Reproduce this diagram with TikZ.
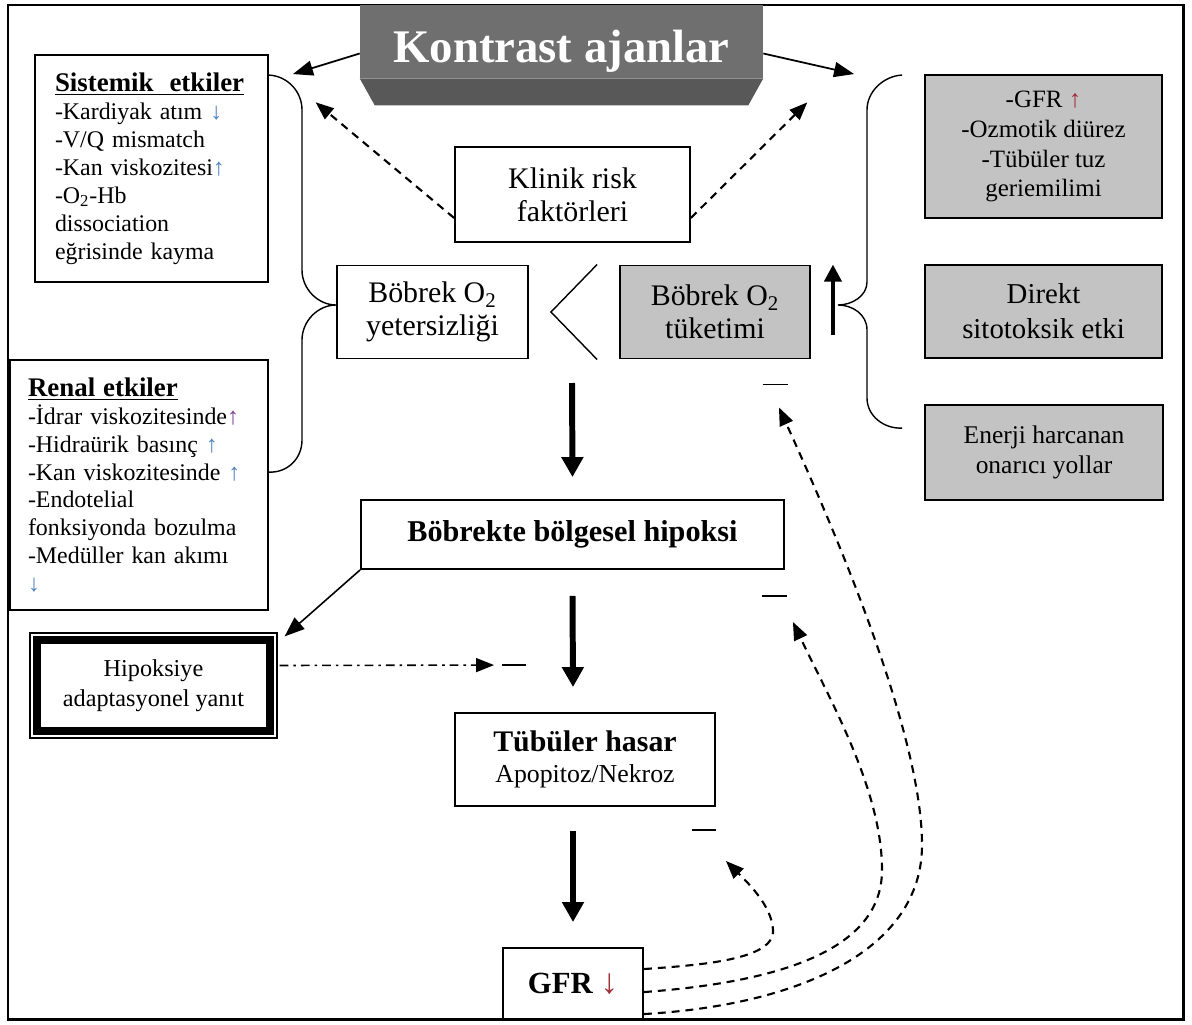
\documentclass[tikz,border=0pt]{standalone}
\usepackage{fontspec}
\setmainfont{Liberation Serif}
\usetikzlibrary{arrows.meta,calc}
\definecolor{boxgray}{HTML}{C3C3C3}
\definecolor{titlegray}{HTML}{6F6F6F}
\definecolor{bevelgray}{HTML}{585858}
\definecolor{arrblue}{HTML}{4F81BD}
\definecolor{arrpurple}{HTML}{7B3F8F}
\definecolor{arrred}{HTML}{A0303A}
\newcommand\fsz[2]{\fontsize{#1}{#2}\selectfont}

\begin{document}
\begin{tikzpicture}[x=0.02cm,y=-0.02cm,
  box/.style={draw, line width=1.1pt, inner sep=0pt, align=center},
  graybox/.style={box, fill=boxgray},
  brace/.style={line width=0.8pt},
  bigarrow/.style={line width=3.4pt, -{Triangle[length=0.4cm,width=0.42cm]}},
  uparrow/.style={line width=2.2pt, -{Triangle[length=0.34cm,width=0.34cm]}},
  thinarrow/.style={line width=1pt, -{Triangle[length=0.4cm,width=0.3cm]}},
  dasharrow/.style={line width=1.2pt, dash pattern=on 4.5pt off 3.4pt, -{Triangle[length=0.36cm,width=0.28cm]}},
  dotdasharrow/.style={line width=0.9pt, dash pattern=on 5pt off 2.8pt on 1.5pt off 2.8pt, -{Triangle[length=0.36cm,width=0.28cm]}},
  inhibit/.style={line width=0.9pt},
]
\useasboundingbox (0,0) rectangle (1192,1024);

% outer frame
\draw[line width=1.7pt] (8,5) rectangle (1183,1019);

% title block with bevel
\node[fill=titlegray, minimum width=8.06cm, minimum height=1.46cm, inner sep=0pt,
      text height=23.6pt, text depth=0pt,
      text=white, font=\bfseries\fsz{26.6}{30}] (title) at (561.5,41.5)
  {Kontrast ajanlar};
\fill[bevelgray] (title.south west) -- (title.south east) -- ++(-15,27)
      -- ($(title.south west)+(15,27)$) -- cycle;

% left column
\node[box, align=left, text width=3.86cm, inner xsep=0.4cm, minimum height=4.54cm,
      font=\fsz{13.6}{15.9}] (sist) at (151.5,168.5)
  {{\bfseries\fsz{15.3}{15.9}\underline{Sistemik\ \ etkiler}}\\
   -Kardiyak atım {\color{arrblue}↓}\\
   -V/Q mismatch\\
   -Kan viskozitesi{\color{arrblue}↑}\\
   -O\textsubscript{2}-Hb\\
   dissociation\\
   eğrisinde kayma};

\node[box, align=left, text width=4.44cm, inner xsep=0.36cm, minimum height=5cm,
      font=\fsz{13.6}{15.9}] (renal) at (139,485)
  {{\bfseries\fsz{15.3}{15.9}\underline{Renal etkiler}}\\
   -İdrar viskozitesinde{\color{arrpurple}↑}\\
   -Hidraürik basınç {\color{arrblue}↑}\\
   -Kan viskozitesinde {\color{arrblue}↑}\\
   -Endotelial\\
   fonksiyonda bozulma\\
   -Medüller kan akımı\\
   {\color{arrblue}↓}};

% middle column
\node[box, minimum width=4.7cm, minimum height=1.9cm, font=\fsz{17}{18.7}] (klinik) at (572.5,194.5)
  {Klinik risk\\faktörleri};
\node[box, minimum width=3.82cm, minimum height=1.86cm, font=\fsz{17}{18.7}] (yet) at (432.5,312)
  {Böbrek O\textsubscript{2}\\yetersizliği};
\node[graybox, minimum width=3.8cm, minimum height=1.86cm, font=\fsz{17}{18.7}] (tuk) at (715,312)
  {Böbrek O\textsubscript{2}\\tüketimi};
\node[box, minimum width=8.46cm, minimum height=1.38cm, font=\bfseries\fsz{17.2}{20}] (hip) at (572.5,534.5)
  {Böbrekte bölgesel hipoksi};
\node[box, minimum width=5.2cm, minimum height=1.86cm, font=\fsz{14.7}{18}] (tub) at (585,759.5)
  {{\bfseries\fsz{17}{18}Tübüler hasar}\\Apopitoz/Nekroz};
\node[box, minimum width=2.8cm, minimum height=1.44cm, font=\bfseries\fsz{17.5}{20}] (gfrdown) at (573,984)
  {GFR {\color{arrred}\fsz{20}{20}↓}};

% adaptive response box: thin outer rule, thick inner rule
\node[draw, line width=0.7pt, minimum width=4.94cm, minimum height=2.1cm, inner sep=0pt,
      align=center, font=\fsz{13.8}{17}] (adapt) at (153.5,685.5)
  {Hipoksiye\\adaptasyonel yanıt};
\draw[line width=4.5pt] ($(adapt.north west)+(8,8)$) rectangle ($(adapt.south east)+(-8,-8)$);

% right column
\node[graybox, minimum width=4.74cm, minimum height=2.86cm, font=\fsz{14.2}{17}] (gfrup) at (1043.5,146.5)
  {-GFR {\color{arrred}↑}\\-Ozmotik diürez\\-Tübüler tuz\\geriemilimi};
\node[graybox, minimum width=4.74cm, minimum height=1.86cm, font=\fsz{16.4}{19.8}] (direkt) at (1043.5,311.5)
  {Direkt\\sitotoksik etki};
\node[graybox, minimum width=4.76cm, minimum height=1.9cm, font=\fsz{14.5}{17}] (enerji) at (1044,452.5)
  {Enerji harcanan\\onarıcı yollar};

% arrows leaving the title
\draw[thinarrow] ($(title.west)+(0,12)$) -- ($(sist.north east)+(24,20)$);
\draw[thinarrow] ($(title.east)+(0,12)$) -- ($(gfrup.north west)+(-70,0)$);
\draw[dasharrow] ($(klinik.south west)+(0,-25)$) -- ($(title.south west)+(-44,24)$);
\draw[dasharrow] ($(klinik.south east)+(0,-25)$) -- ($(title.south east)+(44,24)$);

% left brace
\draw[brace] ($(sist.north east)+(0,21)$) .. controls (287,76) and (302,91) .. (302,110)
  -- (302,270) .. controls (302,289) and (318,305) .. ($(yet.west)+(0,-7)$)
  .. controls (318,305) and (302,321) .. (302,340)
  -- (302,440) .. controls (302,459) and (287,473) .. ($(renal.north east)+(0,113)$);

% right brace
\draw[brace] ($(gfrup.north west)+(-22,1)$) .. controls (884,76) and (867,91) .. (867,110)
  -- (867,282) .. controls (867,296) and (852,305) .. (838,305)
  .. controls (852,305) and (867,314) .. (867,330)
  -- (867,398) .. controls (867,416) and (884,429) .. ($(enerji.north west)+(-22,24)$);

% "<" between the two oxygen boxes
\draw[line width=0.8pt] ($(tuk.north west)+(-22,0)$) -- ($(yet.east)+(22,0)$) -- ($(tuk.south west)+(-22,0)$);

% increase of consumption
\draw[uparrow] ($(tuk.east)+(22,23)$) -- ($(tuk.north east)+(22,0)$);

% main cascade
\coordinate (c1) at (572,383);
\draw[bigarrow] (c1) -- ($(hip.north)+(0,-22)$);
\draw[bigarrow] ($(hip.south)+(0,26)$) -- ($(tub.north)+(-12,-25)$);
\draw[bigarrow] ($(tub.south)+(-12,24)$) -- ($(gfrdown.north)+(0,-25)$);

% inhibition marks
\draw[inhibit] ($(tuk.south east)+(-48,25)$) -- ($(tuk.south east)+(-23,25)$);
\draw[inhibit] ($(hip.south east)+(-23,26)$) -- ($(hip.south east)+(2,26)$);
\draw[inhibit] ($(tub.south east)+(-24,23)$) -- ($(tub.south east)+(0,23)$);
\draw[inhibit] ($(tub.north west)+(48,-47)$) -- ($(tub.north west)+(72,-47)$);

% hypoxia to adaptive response
\draw[thinarrow, line width=0.9pt] (hip.south west) -- ($(adapt.north east)+(7,4)$);
\draw[dotdasharrow] ($(adapt.east)+(2,-20)$) -- ($(tub.north west)+(40,-47)$);

% feedback from falling GFR
\draw[dasharrow] ($(gfrdown.north east)+(0,22)$) .. controls (700,965) and (775,960) .. (773,930)
  .. controls (772,905) and (745,880) .. ($(tub.south east)+(10,54)$);
\draw[dasharrow] ($(gfrdown.north east)+(0,45)$) .. controls (780,982) and (882,950) .. (882,870)
  .. controls (882,790) and (830,700) .. ($(hip.south east)+(8,52)$);
\draw[dasharrow] ($(gfrdown.north east)+(0,67)$) .. controls (800,1005) and (922,950) .. (922,845)
  .. controls (922,730) and (830,520) .. ($(tuk.south east)+(-32,48)$);
\end{tikzpicture}
\end{document}
